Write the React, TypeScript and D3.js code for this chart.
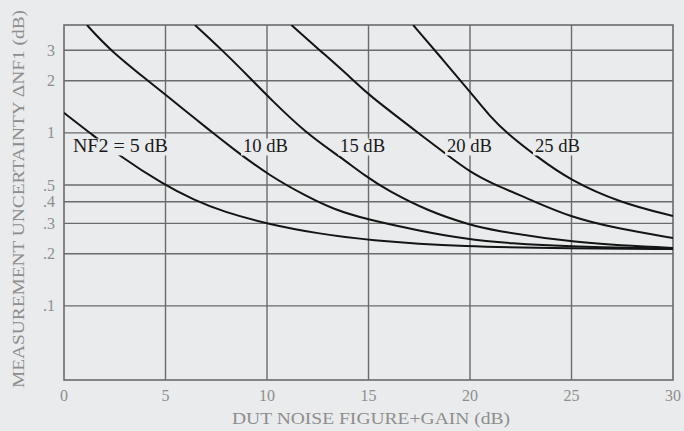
import React from "react";
import * as d3 from "d3";

const X_TICKS = [0, 5, 10, 15, 20, 25, 30];
const Y_TICKS = [0.1, 0.2, 0.3, 0.4, 0.5, 1, 2, 3];
const Y_TICK_LABELS = [".1", ".2", ".3", ".4", ".5", "1", "2", "3"];

const nf5X = [0, 1.28, 2.66, 4.93, 6.4, 7.83, 10.15, 12.5, 14.9, 19.7, 25, 30];
const nf5Y = [1.305, 1.0, 0.746, 0.5, 0.41, 0.35, 0.295, 0.262, 0.24, 0.219, 0.215, 0.213];

const nf10X = [1.13, 2.27, 4.14, 5.0, 6.7, 7.2, 8.3, 10.15, 12.0, 13.25, 14.9, 17.5, 19.7, 22, 25, 30];
const nf10Y = [4.2, 3.0, 2.0, 1.66, 1.148, 1.028, 0.813, 0.562, 0.427, 0.363, 0.316, 0.272, 0.244, 0.229, 0.22, 0.214];

const nf15X = [6.45, 7.8, 9.3, 10.1, 11.9, 13.6, 14.9, 15.9, 18.0, 20, 21, 25, 30];
const nf15Y = [4.2, 3.0, 2.0, 1.6, 1.0, 0.727, 0.557, 0.468, 0.35, 0.294, 0.275, 0.232, 0.216];

const nf20X = [11.2, 12.6, 14.3, 14.8, 17.9, 19.0, 20.0, 21.0, 23.0, 24.9, 27.3, 30];
const nf20Y = [4.2, 3.0, 2.0, 1.73, 0.91, 0.727, 0.595, 0.514, 0.41, 0.327, 0.279, 0.247];

const nf25X = [17.2, 18.6, 20.0, 21.0, 21.8, 23.3, 24.9, 27.4, 30];
const nf25Y = [4.2, 2.7, 1.727, 1.237, 1.0, 0.727, 0.535, 0.394, 0.331];

const SERIES_X = [nf5X, nf10X, nf15X, nf20X, nf25X];
const SERIES_Y = [nf5Y, nf10Y, nf15Y, nf20Y, nf25Y];

const CURVE_LABELS = ["NF2 = 5 dB", "10 dB", "15 dB", "20 dB", "25 dB"];
const CURVE_LABEL_X = [0.44, 8.82, 13.6, 18.87, 23.2];
const CURVE_LABEL_Y = 0.77;

const W = 684;
const H = 431;
const BG = "#e9ebec";
const GRID = "#6b6b6b";
const TICK = "#8e8e8e";
const FONT = "'Liberation Serif', 'Times New Roman', serif";

export default function App() {
  const left = 64, right = 673, top = 25, bottom = 380;
  const x = d3.scaleLinear().domain([0, 30]).range([left, right]);
  const y = d3.scaleLog().domain([0.0373, 4.2]).range([bottom, top]);

  const line = d3
    .line<[number, number]>()
    .x((d) => x(d[0]))
    .y((d) => y(d[1]))
    .curve(d3.curveBasis);

  const labelWidths = [95, 45, 45, 45, 45];

  return (
    <svg
      width={W}
      height={H}
      viewBox={`0 0 ${W} ${H}`}
      style={{ position: "absolute", left: 0, top: 0, display: "block" }}
    >
      <defs>
        <clipPath id="plotClip">
          <rect x={left} y={top} width={right - left} height={bottom - top} />
        </clipPath>
      </defs>
      <rect x={0} y={0} width={W} height={H} fill={BG} />

      {/* gridlines */}
      {Y_TICKS.map((t) => (
        <line key={"gy" + t} x1={left} x2={right} y1={y(t)} y2={y(t)} stroke={GRID} strokeWidth={1.4} />
      ))}
      {X_TICKS.slice(1, -1).map((t) => (
        <line key={"gx" + t} x1={x(t)} x2={x(t)} y1={top} y2={bottom} stroke={GRID} strokeWidth={1.4} />
      ))}
      <rect x={left} y={top} width={right - left} height={bottom - top} fill="none" stroke={GRID} strokeWidth={1.6} />

      {/* curves */}
      <g clipPath="url(#plotClip)">
        {SERIES_X.map((xs, i) => {
          const pts = xs.map((v, j) => [v, SERIES_Y[i][j]] as [number, number]);
          return <path key={"c" + i} d={line(pts) || ""} fill="none" stroke="#141414" strokeWidth={2} />;
        })}
      </g>

      {/* curve labels */}
      {CURVE_LABELS.map((lab, i) => {
        const lx = x(CURVE_LABEL_X[i]);
        const ly = y(CURVE_LABEL_Y);
        return (
          <g key={"l" + i}>
            <rect x={lx - 2} y={ly - 14} width={labelWidths[i] + 2} height={17} fill={BG} />
            <text
              x={lx}
              y={ly}
              fontFamily={FONT}
              fontSize={19}
              fill="#1a1a1a"
              textLength={labelWidths[i]}
              lengthAdjust="spacingAndGlyphs"
            >
              {lab}
            </text>
          </g>
        );
      })}

      {/* y tick labels */}
      {Y_TICKS.map((t, i) => (
        <text
          key={"yl" + t}
          x={55}
          y={y(t)}
          dy="0.35em"
          textAnchor="end"
          fontFamily={FONT}
          fontSize={16}
          fill={TICK}
        >
          {Y_TICK_LABELS[i]}
        </text>
      ))}

      {/* x tick labels */}
      {X_TICKS.map((t) => (
        <text
          key={"xl" + t}
          x={x(t)}
          y={401}
          textAnchor="middle"
          fontFamily={FONT}
          fontSize={16}
          fill={TICK}
        >
          {t}
        </text>
      ))}

      {/* axis titles */}
      <text
        x={371}
        y={424}
        textAnchor="middle"
        fontFamily={FONT}
        fontSize={16}
        fill={TICK}
        textLength={278}
        lengthAdjust="spacingAndGlyphs"
      >
        DUT NOISE FIGURE+GAIN (dB)
      </text>
      <text
        transform={`translate(24, 199) rotate(-90)`}
        textAnchor="middle"
        fontFamily={FONT}
        fontSize={17}
        fill={TICK}
        textLength={378}
        lengthAdjust="spacingAndGlyphs"
      >
        MEASUREMENT UNCERTAINTY ΔNF1 (dB)
      </text>
    </svg>
  );
}
